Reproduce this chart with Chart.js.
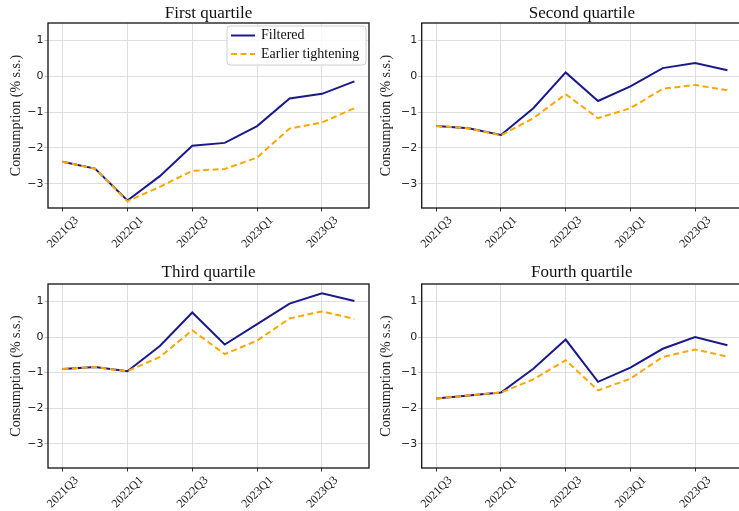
<!DOCTYPE html>
<html>
<head>
<meta charset="utf-8">
<script src="https://cdn.jsdelivr.net/npm/chart.js@4.4.1/dist/chart.umd.min.js"></script>
<style>
  html, body { margin: 0; padding: 0; background: #fff; }
  body { width: 739px; height: 511px; position: relative; overflow: hidden; }
  canvas { position: absolute; }
</style>
</head>
<body>
<canvas id="c1" width="370" height="255" style="left:0;top:0"></canvas>
<canvas id="c2" width="374" height="255" style="left:370px;top:0"></canvas>
<canvas id="c3" width="370" height="256" style="left:0;top:255px"></canvas>
<canvas id="c4" width="374" height="256" style="left:370px;top:255px"></canvas>
<script>
// data
const quarters = ['2021Q3', '2021Q4', '2022Q1', '2022Q2', '2022Q3', '2022Q4', '2023Q1', '2023Q2', '2023Q3', '2023Q4'];
const titles = ['First quartile', 'Second quartile', 'Third quartile', 'Fourth quartile'];
const seriesNames = ['Filtered', 'Earlier tightening'];

const filteredQ1 = [-2.39, -2.58, -3.47, -2.79, -1.94, -1.86, -1.39, -0.62, -0.49, -0.14];
const earlierQ1  = [-2.39, -2.58, -3.49, -3.09, -2.64, -2.59, -2.27, -1.46, -1.29, -0.89];
const filteredQ2 = [-1.39, -1.45, -1.64, -0.89, 0.11, -0.69, -0.28, 0.23, 0.37, 0.17];
const earlierQ2  = [-1.39, -1.45, -1.65, -1.17, -0.50, -1.17, -0.89, -0.35, -0.24, -0.39];
const filteredQ3 = [-0.90, -0.84, -0.96, -0.25, 0.69, -0.21, 0.36, 0.94, 1.23, 1.01];
const earlierQ3  = [-0.90, -0.84, -0.96, -0.56, 0.19, -0.48, -0.10, 0.52, 0.72, 0.51];
const filteredQ4 = [-1.73, -1.64, -1.56, -0.89, -0.07, -1.26, -0.86, -0.33, 0.00, -0.23];
const earlierQ4  = [-1.73, -1.64, -1.56, -1.19, -0.65, -1.50, -1.17, -0.56, -0.35, -0.55];

const yTicks = [-3, -2, -1, 0, 1];
const xTickStep = 2;

const navy = '#1a1a8a';
const orange = '#ffa500';

// spines all round, like matplotlib
const framePlugin = {
    id: 'frame',
    afterDatasetsDraw(chart) {
        const a = chart.chartArea;
        const ctx = chart.ctx;
        ctx.save();
        ctx.strokeStyle = '#111';
        ctx.lineWidth = 1.3;
        ctx.strokeRect(a.left, a.top, a.right - a.left, a.bottom - a.top);
        ctx.restore();
    }
};

// legend box inside the first panel, top right
const boxLegend = {
    id: 'boxLegend',
    afterDraw(chart) {
        if (!chart.options.plugins.boxLegend || !chart.options.plugins.boxLegend.show) return;
        const a = chart.chartArea;
        const ctx = chart.ctx;
        const w = 139, h = 39;
        const x = a.right - 3 - w, y = a.top + 3;
        ctx.save();
        ctx.beginPath();
        ctx.roundRect(x, y, w, h, 3);
        ctx.fillStyle = 'rgba(255,255,255,0.85)';
        ctx.fill();
        ctx.strokeStyle = '#d0d0d0';
        ctx.lineWidth = 1;
        ctx.stroke();
        const rows = [y + 9.5, y + 28];
        const styles = [{ c: navy, d: [] }, { c: orange, d: [6, 3.5] }];
        ctx.font = '14px "Liberation Serif", serif';
        ctx.textBaseline = 'middle';
        rows.forEach((ry, i) => {
            ctx.beginPath();
            ctx.setLineDash(styles[i].d);
            ctx.strokeStyle = styles[i].c;
            ctx.lineWidth = 2;
            ctx.moveTo(x + 4, ry);
            ctx.lineTo(x + 28, ry);
            ctx.stroke();
            ctx.setLineDash([]);
            ctx.fillStyle = '#111';
            ctx.fillText(seriesNames[i], x + 34, ry);
        });
        ctx.restore();
    }
};

const panels = [
    { id: 'c1', filtered: filteredQ1, earlier: earlierQ1, area: { l: 48, t: 23, r: 369, b: 208 }, pad: [5.5, 0.5], legend: true },
    { id: 'c2', filtered: filteredQ2, earlier: earlierQ2, area: { l: 51.7, t: 23, r: 372, b: 208 }, pad: [5.5, 0.5] },
    { id: 'c3', filtered: filteredQ3, earlier: earlierQ3, area: { l: 48, t: 29, r: 369, b: 213 }, pad: [9.5, 2.5] },
    { id: 'c4', filtered: filteredQ4, earlier: earlierQ4, area: { l: 51.7, t: 29, r: 372, b: 213 }, pad: [9.5, 2.5] }
];

panels.forEach((p, k) => {
    const canvas = document.getElementById(p.id);
    const toPoints = arr => arr.map((v, i) => ({ x: i, y: v }));

    new Chart(canvas.getContext('2d'), {
        type: 'line',
        data: {
            datasets: [
                {
                    label: seriesNames[0],
                    data: toPoints(p.filtered),
                    borderColor: navy,
                    borderWidth: 2,
                    pointRadius: 0,
                    tension: 0,
                    order: 1
                },
                {
                    label: seriesNames[1],
                    data: toPoints(p.earlier),
                    borderColor: orange,
                    borderWidth: 2,
                    borderDash: [6, 3.5],
                    pointRadius: 0,
                    tension: 0,
                    order: 0
                }
            ]
        },
        options: {
            responsive: false,
            animation: false,
            layout: { padding: { left: 0, top: 0, right: canvas.width - p.area.r, bottom: 0 } },
            plugins: {
                legend: { display: false },
                tooltip: { enabled: false },
                boxLegend: { show: !!p.legend },
                title: {
                    display: true,
                    text: titles[k],
                    fullSize: false,
                    color: '#111',
                    font: { family: '"Liberation Serif", serif', size: 17, weight: 'normal', lineHeight: 1 },
                    padding: { top: p.pad[0], bottom: p.pad[1] }
                }
            },
            scales: {
                x: {
                    type: 'linear',
                    min: -0.45,
                    max: 9.45,
                    afterBuildTicks: scale => {
                        scale.ticks = quarters.map((q, i) => i).filter(i => i % xTickStep === 0).map(v => ({ value: v }));
                    },
                    afterFit: scale => { scale.height = canvas.height - p.area.b; },
                    grid: { color: '#dedede', lineWidth: 1, drawTicks: true, tickLength: 3.5, tickColor: '#333' },
                    border: { display: false },
                    ticks: {
                        autoSkip: false,
                        minRotation: 45,
                        maxRotation: 45,
                        padding: 2,
                        labelOffset: 14,
                        color: '#222',
                        font: { family: '"Liberation Serif", serif', size: 12 },
                        callback: v => quarters[v]
                    }
                },
                y: {
                    min: -3.68,
                    max: 1.49,
                    afterBuildTicks: scale => { scale.ticks = yTicks.map(v => ({ value: v })); },
                    afterFit: scale => { scale.width = p.area.l; },
                    grid: { color: '#dedede', lineWidth: 1, drawTicks: true, tickLength: 3.5, tickColor: '#bbb' },
                    border: { display: false },
                    ticks: {
                        padding: 1,
                        color: '#222',
                        font: { family: '"DejaVu Sans", sans-serif', size: 11 },
                        callback: v => (v < 0 ? '\u2212' + Math.abs(v) : String(v))
                    },
                    title: {
                        display: true,
                        text: 'Consumption (% s.s.)',
                        color: '#222',
                        font: { family: '"Liberation Serif", serif', size: 14 },
                        padding: { top: 8, bottom: 0 }
                    }
                }
            }
        },
        plugins: [framePlugin, boxLegend]
    });
});
</script>
</body>
</html>
